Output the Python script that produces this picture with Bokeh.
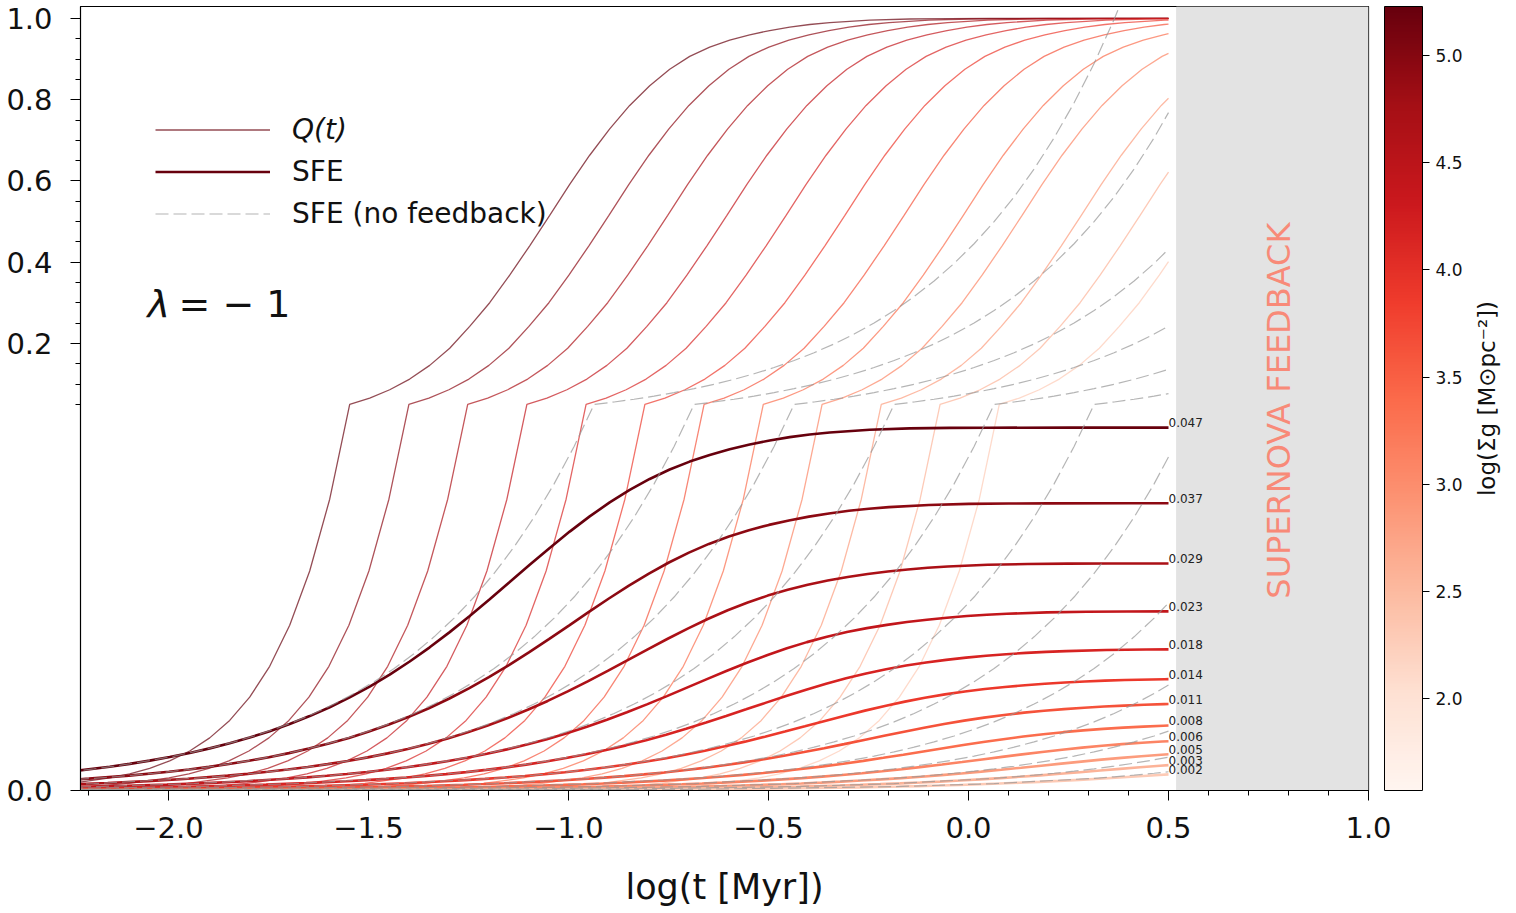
import numpy as np
from bokeh.plotting import figure
from bokeh.layouts import row
from bokeh.models import (FixedTicker, Range1d, BoxAnnotation, Label, Legend, LegendItem,
                          ColorBar, LinearColorMapper, ColumnDataSource, PrintfTickFormatter)
from bokeh.palettes import Reds256
from bokeh.embed import file_html
from bokeh.resources import INLINE
from bokeh.core.properties import value

# ------------------------------------------------------------------ data
# log surface density of each model (sets the colour), darkest first
log_sigma = [5.23, 4.96, 4.70, 4.43, 4.17, 3.90, 3.63, 3.37, 3.10, 2.84, 2.57, 2.30]
q_kink = [-1.547, -1.399, -1.252, -1.104, -0.956, -0.809, -0.661, -0.513, -0.366, -0.218, -0.071, 0.077]
# log t where the no-feedback SFE reaches 0.05
nf_kink = [-0.936, -0.686, -0.436, -0.186, 0.064, 0.314, 0.564, 0.814, 1.064, 1.314, 1.564, 1.814]
# asymptotic SFE of each model
sfe_max = [0.0470, 0.0372, 0.0294, 0.0232, 0.0183, 0.0145, 0.0114, 0.0088, 0.0070, 0.0056, 0.0045, 0.0035]
sfe_labels = ["0.047", "0.037", "0.029", "0.023", "0.018", "0.014", "0.011", "0.008",
              "0.006", "0.005", "0.003", "0.002"]

# common shape of Q(t) and of SFE(t)/SFE_max versus (log t - kink)
tmpl_u = [-2.4, -2.2, -2.0, -1.8, -1.6, -1.4, -1.2, -1.0, -0.9, -0.8, -0.7, -0.6,
          -0.55, -0.5, -0.45, -0.4, -0.35, -0.3, -0.25, -0.2, -0.15, -0.1, -0.05, 0.0,
          0.05, 0.1, 0.15, 0.2, 0.25, 0.3, 0.35, 0.4, 0.45, 0.5, 0.55, 0.6, 0.65, 0.7,
          0.75, 0.8, 0.85, 0.9, 0.95, 1.0, 1.05, 1.1, 1.15, 1.2, 1.3, 1.4, 1.5, 1.6, 1.8, 2.1]
q_shape = [0.0, 0.0000002, 0.0000005, 0.0000016, 0.0000051, 0.0000162, 0.0000513, 0.000162,
           0.000288, 0.000513, 0.000912, 0.001622, 0.002161, 0.002880, 0.003839, 0.005116,
           0.006816, 0.009079, 0.01209, 0.01609, 0.02140, 0.02843, 0.03773, 0.05000,
           0.06582, 0.08621, 0.11255, 0.14624, 0.18852, 0.24217, 0.30044, 0.36822, 0.44057,
           0.51538, 0.59157, 0.66341, 0.72832, 0.78601, 0.83451, 0.87502, 0.90660, 0.92968,
           0.94669, 0.95979, 0.97027, 0.97863, 0.98512, 0.98987, 0.99589, 0.99865, 0.99965,
           0.99993, 1.0, 1.0]
sfe_shape = [0.001036, 0.001643, 0.002603, 0.004126, 0.006539, 0.010365, 0.016426, 0.026034,
             0.032772, 0.041256, 0.051933, 0.065366, 0.073330, 0.082263, 0.092273, 0.103494,
             0.116068, 0.130150, 0.145904, 0.163523, 0.183198, 0.205137, 0.229543, 0.256622,
             0.28653, 0.31947, 0.35550, 0.39457, 0.43649, 0.48083, 0.52701, 0.57434, 0.62188,
             0.66861, 0.71347, 0.75546, 0.79391, 0.82838, 0.85858, 0.88454, 0.90643, 0.92484,
             0.94043, 0.95366, 0.96477, 0.97389, 0.98113, 0.98675, 0.99432, 0.99800, 0.99943,
             0.99987, 1.0, 1.0]
# shape of the no-feedback SFE versus (log t - nf_kink)
nf_u = [-4.2, -3.5, -3.0, -2.5, -2.0, -1.75, -1.5, -1.45, -1.4, -1.35, -1.3, -1.25, -1.2,
        -1.15, -1.1, -1.05, -1.0, -0.95, -0.9, -0.85, -0.8, -0.75, -0.7, -0.65, -0.6, -0.55,
        -0.5, -0.45, -0.4, -0.35, -0.3, -0.25, -0.2, -0.15, -0.1, -0.05, 0.0, 0.05, 0.1,
        0.15, 0.2, 0.25, 0.3, 0.35, 0.4, 0.45, 0.5, 0.55, 0.6, 0.65, 0.7, 0.75, 0.8, 0.85,
        0.9, 0.95, 1.0, 1.05, 1.1, 1.15, 1.2, 1.25, 1.3, 1.35]
nf_shape = [0.0000032, 0.0000158, 0.0000500, 0.000158, 0.000500, 0.000889, 0.001581,
            0.001774, 0.001991, 0.002234, 0.002506, 0.002812, 0.003155, 0.003540, 0.003972,
            0.004457, 0.005000, 0.005610, 0.006295, 0.007063, 0.007924, 0.008891, 0.009976,
            0.011194, 0.012559, 0.014092, 0.015811, 0.017741, 0.019905, 0.022334, 0.025059,
            0.028117, 0.031548, 0.035397, 0.039716, 0.044562, 0.050000, 0.056101, 0.062946,
            0.070627, 0.079245, 0.088914, 0.099763, 0.111936, 0.125594, 0.140919, 0.158114,
            0.177407, 0.199054, 0.223342, 0.250594, 0.281171, 0.315479, 0.353973, 0.397164,
            0.445625, 0.500000, 0.561009, 0.629463, 0.706268, 0.792447, 0.889140, 0.997631,
            1.119360]

x_ticks = [-2.0, -1.5, -1.0, -0.5, 0.0, 0.5, 1.0]
y_ticks = [0.0, 0.2, 0.4, 0.6, 0.8, 1.0]
y_minor = [0.05, 0.1, 0.15, 0.25, 0.3, 0.35, 0.45, 0.5, 0.55, 0.65, 0.7, 0.75, 0.85, 0.9, 0.95]
cbar_ticks = [2.0, 2.5, 3.0, 3.5, 4.0, 4.5, 5.0]
SIG_LO, SIG_HI = 1.57, 5.23
BREAK = 0.05      # y value where the axis changes scale
T_END = 0.5       # end of the models (log t)
SN_START = 0.52   # start of the supernova band

FONT = "DejaVu Sans"


# ------------------------------------------------------------------ helpers
def ty(v):
    """piecewise linear y scale: [0, 0.05] -> lower half, [0.05, 1] -> upper half"""
    v = np.asarray(v, dtype=float)
    return np.where(v <= BREAK, 0.5 * v / BREAK, 0.5 + 0.5 * (v - BREAK) / (1.0 - BREAK))


def clip_end(xs, ys, xmax=T_END):
    xs = np.asarray(xs, dtype=float)
    ys = np.asarray(ys, dtype=float)
    keep = xs <= xmax
    ox, oy = [float(a) for a in xs[keep]], [float(b) for b in ys[keep]]
    if keep.any() and not keep.all():
        j = int(np.argmax(~keep))
        f = (xmax - xs[j - 1]) / (xs[j] - xs[j - 1])
        ox.append(xmax)
        oy.append(float(ys[j - 1] + f * (ys[j] - ys[j - 1])))
    return ox, oy


pal = list(Reds256)[::-1]          # light -> dark


def cmap(v):
    i = int(round((v - SIG_LO) / (SIG_HI - SIG_LO) * 255))
    return pal[max(0, min(255, i))]


colors = [cmap(v) for v in log_sigma]

# ------------------------------------------------------------------ figure
p = figure(width=1466, height=913, frame_width=1288, frame_height=784,
           x_range=Range1d(-2.22, 1.0), y_range=Range1d(0.0, 1.0155),
           output_backend="svg", toolbar_location=None,
           min_border_left=80, min_border_right=98, min_border_top=6, min_border_bottom=123)
p.background_fill_color = "white"
p.border_fill_color = "white"
p.outline_line_color = "black"
p.outline_line_width = 1.2
p.xgrid.visible = False
p.ygrid.visible = False

# supernova band
p.add_layout(BoxAnnotation(left=SN_START, right=1.0, fill_color="#e3e3e3", fill_alpha=1.0,
                           line_color="#c9c9c9", line_width=1, level="underlay"))

tu = np.asarray(tmpl_u)
q_xs, q_ys, s_xs, s_ys, n_xs, n_ys = [], [], [], [], [], []
lab_x, lab_y = [], []
for i in range(len(log_sigma)):
    x, y = clip_end(tu + q_kink[i], ty(q_shape))
    q_xs.append(x); q_ys.append(y)
    x, y = clip_end(tu + q_kink[i], ty(np.asarray(sfe_shape) * sfe_max[i]))
    s_xs.append(x); s_ys.append(y)
    lab_x.append(x[-1]); lab_y.append(y[-1])
    x, y = clip_end(np.asarray(nf_u) + nf_kink[i], ty(nf_shape))
    n_xs.append(x); n_ys.append(y)

r_q = p.multi_line(xs="xs", ys="ys", line_color="c", line_width=1.3, line_alpha=0.7,
                   source=ColumnDataSource(dict(xs=q_xs, ys=q_ys, c=colors)))
r_s = p.multi_line(xs="xs", ys="ys", line_color="c", line_width=2.6,
                   source=ColumnDataSource(dict(xs=s_xs, ys=s_ys, c=colors)))
r_n = p.multi_line(xs="xs", ys="ys", line_color="#959595", line_width=1.2, line_alpha=0.7,
                   line_dash="13 5", source=ColumnDataSource(dict(xs=n_xs, ys=n_ys)))

p.text(x="x", y="y", text="t", source=ColumnDataSource(dict(x=lab_x, y=lab_y, t=sfe_labels)),
       text_font=value(FONT), text_font_size="12px", text_color="#222222",
       text_baseline="alphabetic", text_align="left", x_offset=0, y_offset=-5)

# ------------------------------------------------------------------ axes
p.xaxis.ticker = FixedTicker(ticks=x_ticks,
                             minor_ticks=[round(-2.2 + 0.1 * k, 1) for k in range(33)])
p.xaxis.major_label_overrides = {t: f"{t:.1f}".replace("-", "\u2212") for t in x_ticks}
yt = [float(v) for v in ty(y_ticks)]
p.yaxis.ticker = FixedTicker(ticks=yt, minor_ticks=[float(v) for v in ty(y_minor)])
p.yaxis.major_label_overrides = {k: f"{v:.1f}" for k, v in zip(yt, y_ticks)}

for ax in (p.xaxis[0], p.yaxis[0]):
    ax.major_tick_in = 0
    ax.major_tick_out = 10
    ax.minor_tick_in = 0
    ax.minor_tick_out = 5
    ax.major_tick_line_color = "black"
    ax.minor_tick_line_color = "black"
    ax.axis_line_color = "black"
    ax.major_label_text_font = FONT
    ax.major_label_text_font_size = "29px"
    ax.major_label_text_color = "#111111"
p.yaxis.major_label_standoff = 18
p.xaxis.major_label_standoff = 16
p.xaxis.axis_label = "log(t [Myr])"
p.xaxis.axis_label_text_font = FONT
p.xaxis.axis_label_text_font_size = "35px"
p.xaxis.axis_label_text_font_style = "normal"
p.xaxis.axis_label_text_color = "#111111"
p.xaxis.axis_label_standoff = 26

# ------------------------------------------------------------------ legend
common = dict(glyph_width=115, glyph_height=33, label_height=33, label_standoff=22,
              spacing=9, padding=0, margin=0, border_line_color=None,
              background_fill_alpha=0.0, label_text_font=FONT, label_text_font_size="28px",
              label_text_color="#111111")
leg1 = Legend(items=[LegendItem(label="Q(t)", renderers=[r_q], index=0)],
              location=(75, 644), label_text_font_style="italic", **common)
leg2 = Legend(items=[LegendItem(label="SFE", renderers=[r_s], index=0),
                     LegendItem(label="SFE (no feedback)", renderers=[r_n], index=0)],
              location=(75, 560), **common)
p.add_layout(leg1)
p.add_layout(leg2)

# ------------------------------------------------------------------ annotations
p.add_layout(Label(x=67, y=487, x_units="screen", y_units="screen", text="\u03bb",
                   text_font=FONT, text_font_size="38px", text_font_style="italic",
                   text_baseline="middle", text_color="#111111"))
p.add_layout(Label(x=98, y=487, x_units="screen", y_units="screen", text="= \u2212 1",
                   text_font=FONT, text_font_size="38px", text_baseline="middle",
                   text_color="#111111"))
p.add_layout(Label(x=0.775, y=0.492, text="SUPERNOVA FEEDBACK", angle=np.pi / 2,
                   text_font=FONT, text_font_size="32px", text_color="#f88a78",
                   text_align="center", text_baseline="middle"))

mapper = LinearColorMapper(palette=pal, low=SIG_LO, high=SIG_HI)
cb = ColorBar(color_mapper=mapper, location=(1304, 0), width=38, height=784,
              padding=0, margin=0, ticker=FixedTicker(ticks=cbar_ticks),
              formatter=PrintfTickFormatter(format="%.1f"),
              major_tick_in=0, major_tick_out=7, major_tick_line_color="black",
              bar_line_color="black", bar_line_width=1,
              major_label_text_font=FONT, major_label_text_font_size="17px",
              major_label_text_color="#111111", label_standoff=6,
              background_fill_alpha=0.0, border_line_color=None)
p.add_layout(cb)

# strip on the right that carries the colour-bar title (its frame lines up with the main frame)
p2 = figure(width=50, height=913, x_range=Range1d(0, 50), y_range=Range1d(0, 784),
            output_backend="svg", toolbar_location=None, min_border=0)
p2.axis.visible = False
p2.xgrid.visible = False
p2.ygrid.visible = False
p2.outline_line_color = None
p2.background_fill_color = "white"
p2.border_fill_color = "white"
p2.add_layout(Label(x=20, y=392, text="log(\u03a3g [M\u2299pc\u207b\u00b2])", angle=np.pi / 2,
                    text_font=FONT, text_font_size="23px", text_color="#111111",
                    text_align="center", text_baseline="middle"))

layout = row(p, p2, spacing=0)
open("out.html", "w").write(file_html(layout, INLINE))
